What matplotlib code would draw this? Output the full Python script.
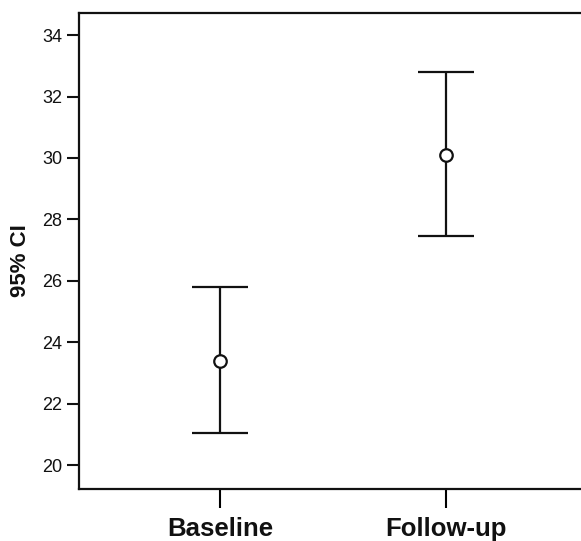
import matplotlib.pyplot as plt

plt.rcParams['font.family'] = ['Liberation Sans', 'DejaVu Sans']

# values
groups = ['Baseline', 'Follow-up']
means = [23.4, 30.1]
ci_low = [21.05, 27.45]
ci_high = [25.8, 32.8]
y_ticks = [20, 22, 24, 26, 28, 30, 32, 34]

fig = plt.figure(figsize=(5.81, 5.41), dpi=100)
ax = fig.add_axes([79 / 581, 1 - 489 / 541, (587 - 79) / 581, (489 - 13) / 541])

x = [1, 2]
err = [[m - lo for m, lo in zip(means, ci_low)],
       [hi - m for m, hi in zip(means, ci_high)]]
ax.errorbar(x, means, yerr=err, fmt='o', color='#111111', mfc='white',
            mec='#111111', ms=9, mew=1.6, elinewidth=1.6, capsize=20,
            capthick=1.6)

ax.set_xlim(0.376, 2.624)
ax.set_ylim(19.22, 34.72)
ax.set_yticks(y_ticks)
ax.set_xticks(x)
ax.set_xticklabels(groups, fontsize=18.5, fontweight='bold', color='#111111')
ax.tick_params(axis='y', length=9, width=1.5, labelsize=13, colors='#111111', pad=3)
ax.tick_params(axis='x', length=14, width=1.5, pad=6)
ax.set_ylabel('95% CI', fontsize=16, fontweight='bold', color='#111111')
ax.yaxis.set_label_coords(-0.094, 0.48)

for s in ax.spines.values():
    s.set_linewidth(1.6)
    s.set_color('#111111')

fig.savefig('out.png', dpi=100)
